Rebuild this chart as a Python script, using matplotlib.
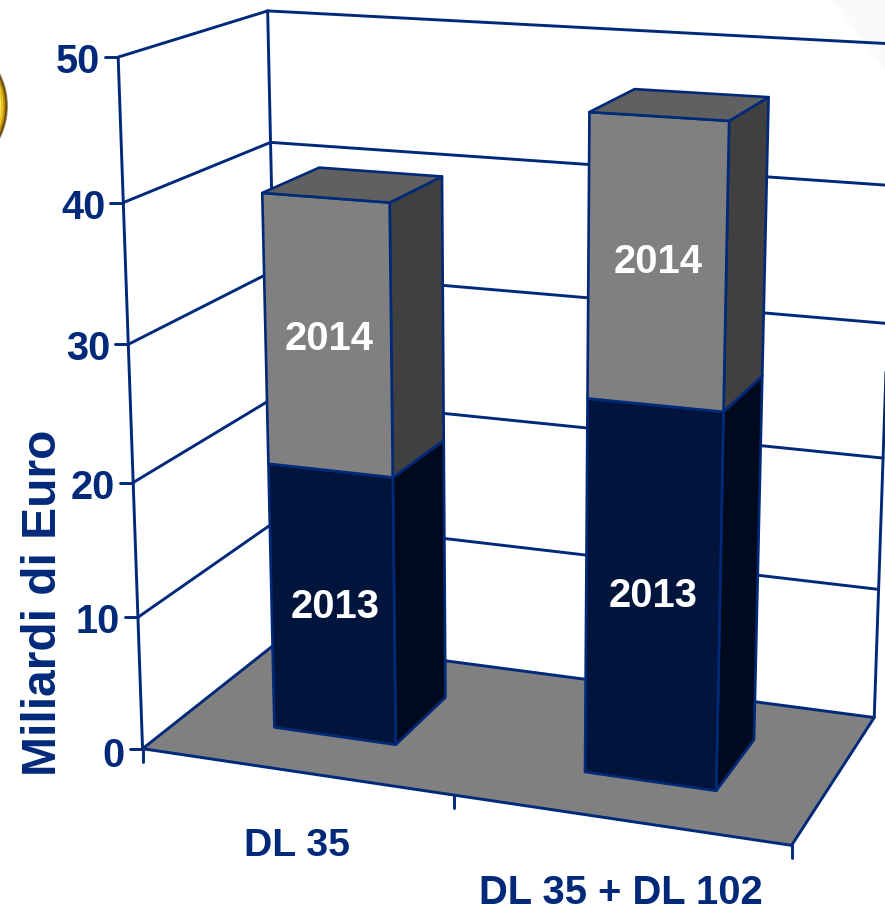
import numpy as np
import matplotlib
matplotlib.use('Agg')
import matplotlib.pyplot as plt
from matplotlib.patches import Polygon, Circle

# ---- data ----
categories = ['DL 35', 'DL 35 + DL 102']
series_names = ['2013', '2014']
values_2013 = [20.15, 27.3]
values_2014 = [19.7, 19.7]
y_ticks = [0, 10, 20, 30, 40, 50]
y_title = 'Miliardi di Euro'

# ---- style ----
NAVY = '#00297A'
LW = 2.1
BAR_W, D0, D1 = 0.4, 0.29, 0.70
ZMAX = 50
face = {'2013': ('#00143C', '#000A1E'), '2014': ('#808080', '#404040')}
top_col = {'2013': '#000F2D', '2014': '#606060'}
label_nudge = {(0, '2013'): (3, 2), (0, '2014'): (1, 3), (1, '2013'): (1, -1), (1, '2014'): (1, -1)}
plt.rcParams['font.family'] = ['Liberation Sans', 'DejaVu Sans']
plt.rcParams['font.weight'] = 'bold'

# ---- camera: perspective fitted to the box corners (x, depth, value) -> pixel ----
cal = [((0, 0, 0), (143, 749)), ((2, 0, 0), (792, 845)), ((2, 1, 0), (874, 718)),
       ((0, 1, 0), (281, 639)), ((0, 0, 50), (118, 57)), ((0, 1, 50), (268, 11)),
       ((2, 1, 50), (897, 44)), ((0, 0, 10), (138, 617)), ((0, 0, 20), (133, 482)),
       ((0, 0, 30), (128, 345)), ((0, 0, 40), (123, 203)), ((0, 1, 40), (271, 142)),
       ((1, 0, 0), (454, 795))]
rows = []
for (X, Y, Z), (u, v) in cal:
    Z = Z / ZMAX
    rows.append([X, Y, Z, 1, 0, 0, 0, 0, -u*X, -u*Y, -u*Z, -u])
    rows.append([0, 0, 0, 0, X, Y, Z, 1, -v*X, -v*Y, -v*Z, -v])
P = np.linalg.svd(np.array(rows, float))[2][-1].reshape(3, 4)


def pr(x, d, z):
    h = P @ np.array([x, d, z / ZMAX, 1.0])
    return h[0] / h[2], h[1] / h[2]


fig = plt.figure(figsize=(8.85, 9.07), dpi=100)
ax = fig.add_axes([0, 0, 1, 1])
ax.set_xlim(0, 885)
ax.set_ylim(907, 0)
ax.axis('off')

# slide decoration behind the chart
ax.add_patch(Polygon([(833, 0), (885, 72), (885, 0)], fc='#FAFAFA', ec='none', zorder=0))
for r, c in [(72, '#A89A78'), (71, '#5E4206'), (69.5, '#B98A0C'), (67.5, '#E8C422'), (65, '#F8E360')]:
    ax.add_patch(Circle((-64, 106), r, fc=c, ec='none', zorder=0))


def line(a, b, lw=LW, z=2):
    ax.plot(*zip(a, b), color=NAVY, lw=lw, solid_capstyle='round', zorder=z)


nx = len(categories)
# floor
ax.add_patch(Polygon([pr(0, 0, 0), pr(nx, 0, 0), pr(nx, 1, 0), pr(0, 1, 0)],
                     fc='#808080', ec=NAVY, lw=LW, joinstyle='round', zorder=1))
# walls and grid
for t in y_ticks:
    if t > 0:
        line(pr(0, 0, t), pr(0, 1, t))
        line(pr(0, 1, t), pr(nx, 1, t))
    fx, fy = pr(0, 0, t)
    line((fx - 13, fy), (fx, fy))
    ax.text(fx - 18, fy + 1 if t else fy + 3, str(t), color=NAVY, fontsize=28.6,
            ha='right', va='center_baseline', zorder=5)
line(pr(0, 0, 0), pr(0, 0, ZMAX))
line(pr(0, 1, 0), pr(0, 1, ZMAX))
line(pr(nx, 1, 0), pr(nx, 1, ZMAX))
# category ticks
for i in range(nx + 1):
    fx, fy = pr(i, 0, 0)
    line((fx, fy), (fx, fy + 13))

# bars
zo = 3
for i, (a, b) in enumerate(zip(values_2013, values_2014)):
    x0, x1 = i + 0.5 - BAR_W / 2, i + 0.5 + BAR_W / 2
    base = 0
    for name, h in zip(series_names, (a, b)):
        tp = base + h
        fc, sc = face[name]
        ax.add_patch(Polygon([pr(x1, D0, base), pr(x1, D1, base), pr(x1, D1, tp), pr(x1, D0, tp)],
                             fc=sc, ec=NAVY, lw=LW - 0.2, joinstyle='round', zorder=zo))
        ax.add_patch(Polygon([pr(x0, D0, base), pr(x1, D0, base), pr(x1, D0, tp), pr(x0, D0, tp)],
                             fc=fc, ec=NAVY, lw=LW - 0.2, joinstyle='round', zorder=zo))
        ax.add_patch(Polygon([pr(x0, D0, tp), pr(x1, D0, tp), pr(x1, D1, tp), pr(x0, D1, tp)],
                             fc=top_col[name], ec=NAVY, lw=LW - 0.2, joinstyle='round', zorder=zo))
        lx, ly = pr(i + 0.5, D0, base + h / 2)
        dx, dy = label_nudge[(i, name)]
        ax.text(lx + dx, ly + dy, name, color='white', fontsize=28.8, ha='center', va='center', zorder=6)
        base = tp

# category and axis titles
ax.text(297.5, 846, categories[0], color=NAVY, fontsize=28.3, ha='center', va='center')
ax.text(621, 904, categories[1], color=NAVY, fontsize=28.8, ha='center', va='baseline')
ax.text(44, 602.5, y_title, color=NAVY, fontsize=34.5, rotation=90, ha='center', va='center')

fig.savefig('out.png', dpi=100)
